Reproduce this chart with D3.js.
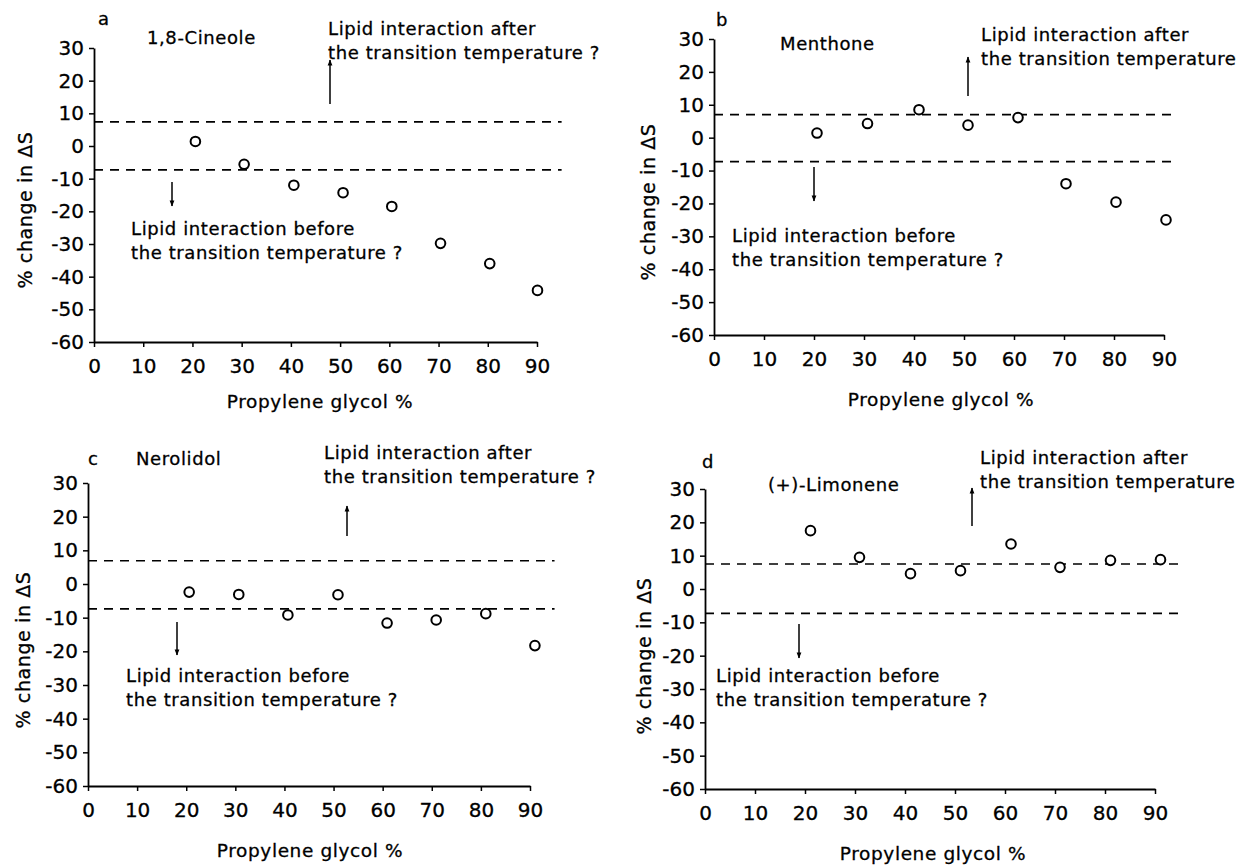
<!DOCTYPE html>
<html>
<head>
<meta charset="utf-8">
<script src="https://cdn.jsdelivr.net/npm/d3@7"></script>
<style>
  body { margin: 0; background: #fff; }
  svg { display: block; }
  text { font-family: "DejaVu Sans", sans-serif; fill: #000; stroke: #000; stroke-width: 0.3px; }
</style>
</head>
<body>
<div id="chart"></div>
<script>
// tick values shared by all four panels
const xTicks = [0, 10, 20, 30, 40, 50, 60, 70, 80, 90];
const yTicks = [-60, -50, -40, -30, -20, -10, 0, 10, 20, 30];

const panelLetters = ["a", "b", "c", "d"];
const compounds = ["1,8-Cineole", "Menthone", "Nerolidol", "(+)-Limonene"];
// panels b and d run off the right edge, the "?" is not visible there
const afterLines = [
  ["Lipid interaction after", "the transition temperature ?"],
  ["Lipid interaction after", "the transition temperature"],
  ["Lipid interaction after", "the transition temperature ?"],
  ["Lipid interaction after", "the transition temperature"]
];
const beforeLines = ["Lipid interaction before", "the transition temperature ?"];
const xTitle = "Propylene glycol %";
const yTitle = "% change in \u0394S";

// a: 1,8-Cineole
const cineolePG = [20.6, 30.5, 40.6, 50.6, 60.5, 70.4, 80.4, 90.1];
const cineoleDS = [1.4, -5.6, -12, -14.3, -18.5, -29.8, -36, -44.2];
const cineoleLimits = [7.4, -7.3];
// b: Menthone
const menthonePG = [20.6, 30.7, 41, 50.8, 60.8, 70.4, 80.4, 90.4];
const menthoneDS = [1.4, 4.3, 8.5, 3.8, 6.1, -14, -19.6, -25];
const menthoneLimits = [7, -7.3];
// c: Nerolidol
const nerolidolPG = [20.6, 30.7, 40.7, 50.9, 60.9, 70.9, 81, 91];
const nerolidolDS = [-2.4, -3.1, -9.2, -3.2, -11.6, -10.7, -8.8, -18.3];
const nerolidolLimits = [6.9, -7.4];
// d: (+)-Limonene
const limonenePG = [21.1, 30.9, 41.1, 51.1, 61.2, 71, 81.1, 91.1];
const limoneneDS = [17.5, 9.5, 4.6, 5.5, 13.5, 6.5, 8.6, 8.8];
const limoneneLimits = [7.5, -7.3];
// how far the dashed limit lines run (x units)
const limitEnds = [95, 92.5, 95, 94.8];

const width = 1241;
const height = 865;

// page placement of each panel (pixels)
const layout = [
  { x0: 94, x1: 537, yTop: 48, yBot: 342, letter: [98, 25], name: [147, 44],
    after: [328, 35], up: [330, 104, 60], down: [172, 182, 206], before: [131, 235],
    xTitle: [320, 408], yTitle: [32, 210] },
  { x0: 714, x1: 1164, yTop: 39, yBot: 335, letter: [716, 26], name: [780, 50],
    after: [981, 41], up: [968, 96, 57], down: [814, 167, 201], before: [732, 242],
    xTitle: [941, 406], yTitle: [655, 202] },
  { x0: 88, x1: 530, yTop: 483, yBot: 786, letter: [88, 465], name: [136, 465],
    after: [324, 459], up: [347, 536, 506], down: [177, 622, 655], before: [126, 682],
    xTitle: [310, 857], yTitle: [30, 650] },
  { x0: 705, x1: 1155, yTop: 489, yBot: 789, letter: [702, 468], name: [768, 491],
    after: [980, 464], up: [972, 526, 488], down: [799, 624, 658], before: [716, 682],
    xTitle: [933, 860], yTitle: [651, 656] }
];

const panels = [
  { pg: cineolePG, ds: cineoleDS, limits: cineoleLimits },
  { pg: menthonePG, ds: menthoneDS, limits: menthoneLimits },
  { pg: nerolidolPG, ds: nerolidolDS, limits: nerolidolLimits },
  { pg: limonenePG, ds: limoneneDS, limits: limoneneLimits }
];

const svg = d3.create("svg")
  .attr("width", width)
  .attr("height", height)
  .attr("viewBox", `0 0 ${width} ${height}`);

svg.append("rect").attr("width", width).attr("height", height).attr("fill", "#fff");

// small filled arrow head
svg.append("defs").append("marker")
  .attr("id", "head")
  .attr("viewBox", "0 -5 10 10")
  .attr("refX", 9)
  .attr("refY", 0)
  .attr("markerUnits", "userSpaceOnUse")
  .attr("markerWidth", 7)
  .attr("markerHeight", 6)
  .attr("orient", "auto")
  .append("path")
  .attr("d", "M0,-4L10,0L0,4Z")
  .attr("fill", "#000");

function styleAxis(g) {
  g.attr("font-family", null).attr("font-size", null);
  g.select(".domain").attr("stroke", "#000").attr("stroke-width", 1.8);
  g.selectAll(".tick line").attr("stroke", "#000").attr("stroke-width", 1.5);
  g.selectAll(".tick text").style("font-size", "20px");
}

function twoLines(g, lines, pos) {
  const t = g.append("text")
    .attr("x", pos[0])
    .attr("y", pos[1])
    .style("font-size", "18px")
    .style("letter-spacing", "0.6px");
  lines.forEach((s, i) => {
    t.append("tspan").attr("x", pos[0]).attr("dy", i === 0 ? 0 : 24).text(s);
  });
}

function drawPanel(i) {
  const p = panels[i];
  const L = layout[i];
  const g = svg.append("g");

  const x = d3.scaleLinear().domain([0, 90]).range([L.x0, L.x1]);
  const y = d3.scaleLinear().domain([-60, 30]).range([L.yBot, L.yTop]);

  // x axis
  g.append("g")
    .attr("transform", `translate(0,${L.yBot})`)
    .call(d3.axisBottom(x).tickValues(xTicks).tickFormat(d => String(d))
      .tickSize(5).tickPadding(12).tickSizeOuter(0))
    .call(styleAxis);

  // y axis, plain hyphen for negatives as in the print
  g.append("g")
    .attr("transform", `translate(${L.x0},0)`)
    .call(d3.axisLeft(y).tickValues(yTicks).tickFormat(d => String(d))
      .tickSize(5).tickPadding(5).tickSizeOuter(0))
    .call(styleAxis);

  // dashed limit lines
  g.selectAll(".limit")
    .data(p.limits)
    .join("line")
      .attr("class", "limit")
      .attr("x1", x(0))
      .attr("x2", x(limitEnds[i]))
      .attr("y1", d => y(d))
      .attr("y2", d => y(d))
      .attr("stroke", "#000")
      .attr("stroke-width", 1.7)
      .attr("stroke-dasharray", "9,7");

  // open circle markers
  g.selectAll("circle")
    .data(d3.zip(p.pg, p.ds))
    .join("circle")
      .attr("cx", d => x(d[0]))
      .attr("cy", d => y(d[1]))
      .attr("r", 4.8)
      .attr("fill", "#fff")
      .attr("stroke", "#000")
      .attr("stroke-width", 2);

  // arrows
  g.append("line")
    .attr("x1", L.up[0]).attr("x2", L.up[0])
    .attr("y1", L.up[1]).attr("y2", L.up[2])
    .attr("stroke", "#000").attr("stroke-width", 1.5)
    .attr("marker-end", "url(#head)");
  g.append("line")
    .attr("x1", L.down[0]).attr("x2", L.down[0])
    .attr("y1", L.down[1]).attr("y2", L.down[2])
    .attr("stroke", "#000").attr("stroke-width", 1.5)
    .attr("marker-end", "url(#head)");

  // labels
  g.append("text")
    .attr("x", L.letter[0]).attr("y", L.letter[1])
    .style("font-size", "18px")
    .text(panelLetters[i]);
  g.append("text")
    .attr("x", L.name[0]).attr("y", L.name[1])
    .style("font-size", "18px")
    .style("letter-spacing", "0.6px")
    .text(compounds[i]);
  twoLines(g, afterLines[i], L.after);
  twoLines(g, beforeLines, L.before);

  // axis titles
  g.append("text")
    .attr("x", L.xTitle[0]).attr("y", L.xTitle[1])
    .attr("text-anchor", "middle")
    .style("font-size", "18.5px")
    .style("letter-spacing", "0.6px")
    .text(xTitle);
  g.append("text")
    .attr("transform", `translate(${L.yTitle[0]},${L.yTitle[1]}) rotate(-90)`)
    .attr("text-anchor", "middle")
    .style("font-size", "19px")
    .style("letter-spacing", "0.6px")
    .text(yTitle);
}

panels.forEach((p, i) => drawPanel(i));

document.getElementById("chart").appendChild(svg.node());
</script>
</body>
</html>
